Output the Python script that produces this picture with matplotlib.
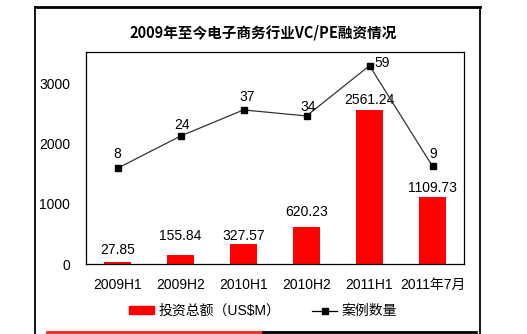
import matplotlib
matplotlib.use("Agg")
from matplotlib import pyplot as plt
from matplotlib.lines import Line2D
from matplotlib.patches import Rectangle

plt.rcParams['font.family'] = ['Liberation Sans', 'Noto Sans CJK SC', 'DejaVu Sans']

periods = ["2009H1", "2009H2", "2010H1", "2010H2", "2011H1", "2011年7月"]
amount = [27.85, 155.84, 327.57, 620.23, 2561.24, 1109.73]
deals = [8, 24, 37, 34, 59, 9]

# label offsets in pixels (dx, dy), as placed in the original
bar_offsets = [12, 19, 8, 15, 10, 9]
line_offsets = [(0, 14), (2, 11), (4, 13), (2, 9), (13, 3), (1, 12)]

W, H = 527, 334
fig = plt.figure(figsize=(W / 100, H / 100), dpi=100)
ax = fig.add_axes([86 / W, (H - 264) / H, 378 / W, 212 / H])
ax2 = ax.twinx()

xs = list(range(len(periods)))
ax.bar(xs, amount, width=0.42, color='#ff0000', zorder=2)
ax.set_xlim(-0.5, len(periods) - 0.5)
ax.set_ylim(0, 3533)
ax.set_yticks([0, 1000, 2000, 3000])
ax.set_xticks(xs)
ax.set_xticklabels(periods)
ax.tick_params(length=0, labelsize=10, pad=10)
ax.tick_params(axis='y', pad=11.5)
for s in ax.spines.values():
  s.set_linewidth(0.9)

for x, v, off in zip(xs, amount, bar_offsets):
  ax.annotate("%.2f" % v, xy=(x, v), xytext=(0, off * 0.72), textcoords='offset points',
              ha='center', va='center', fontsize=10)

ax2.plot(xs, deals, color='#333333', linewidth=0.9, marker='s', markersize=5,
         markerfacecolor='black', markeredgecolor='black')
ax2.set_ylim(-39.6, 65.8)
ax2.set_yticks([])
for s in ax2.spines.values():
  s.set_visible(False)

for x, v, (dx, dy) in zip(xs, deals, line_offsets):
  ax2.annotate(str(v), xy=(x, v), xytext=(dx * 0.72, dy * 0.72), textcoords='offset points',
               ha='center', va='center', fontsize=10)

fig.text(263 / W, 1 - 32 / H, "2009年至今电子商务行业VC/PE融资情况",
         ha='center', va='center', fontsize=10.5, fontweight='bold',
         family=['Noto Sans CJK SC', 'DejaVu Sans'])

handles = [Rectangle((0, 0), 1, 1, color='#ff0000'),
           Line2D([], [], color='black', linewidth=0.9, marker='s', markersize=5)]
fig.legend(handles, ["投资总额（US$M）", "案例数量"], loc='center',
           bbox_to_anchor=(263 / W, 23 / H), ncol=2, frameon=False, fontsize=10,
           handlelength=1.8, handleheight=0.5, handletextpad=0.3, columnspacing=2.3)

# outer frame and bottom rule
def px_line(x0, y0, x1, y1, color, lw):
  fig.add_artist(Line2D([x0 / W, x1 / W], [1 - y0 / H, 1 - y1 / H],
                        transform=fig.transFigure, color=color, linewidth=lw))

px_line(35, 7, 480, 7, 'black', 2)
px_line(35, 7, 35, H, 'black', 1.3)
px_line(480, 7, 480, H, 'black', 1.3)
px_line(47, 332, 263, 332, '#ff2020', 2)
px_line(263, 332, 476, 332, 'black', 2)

fig.savefig("out.png", dpi=100)
